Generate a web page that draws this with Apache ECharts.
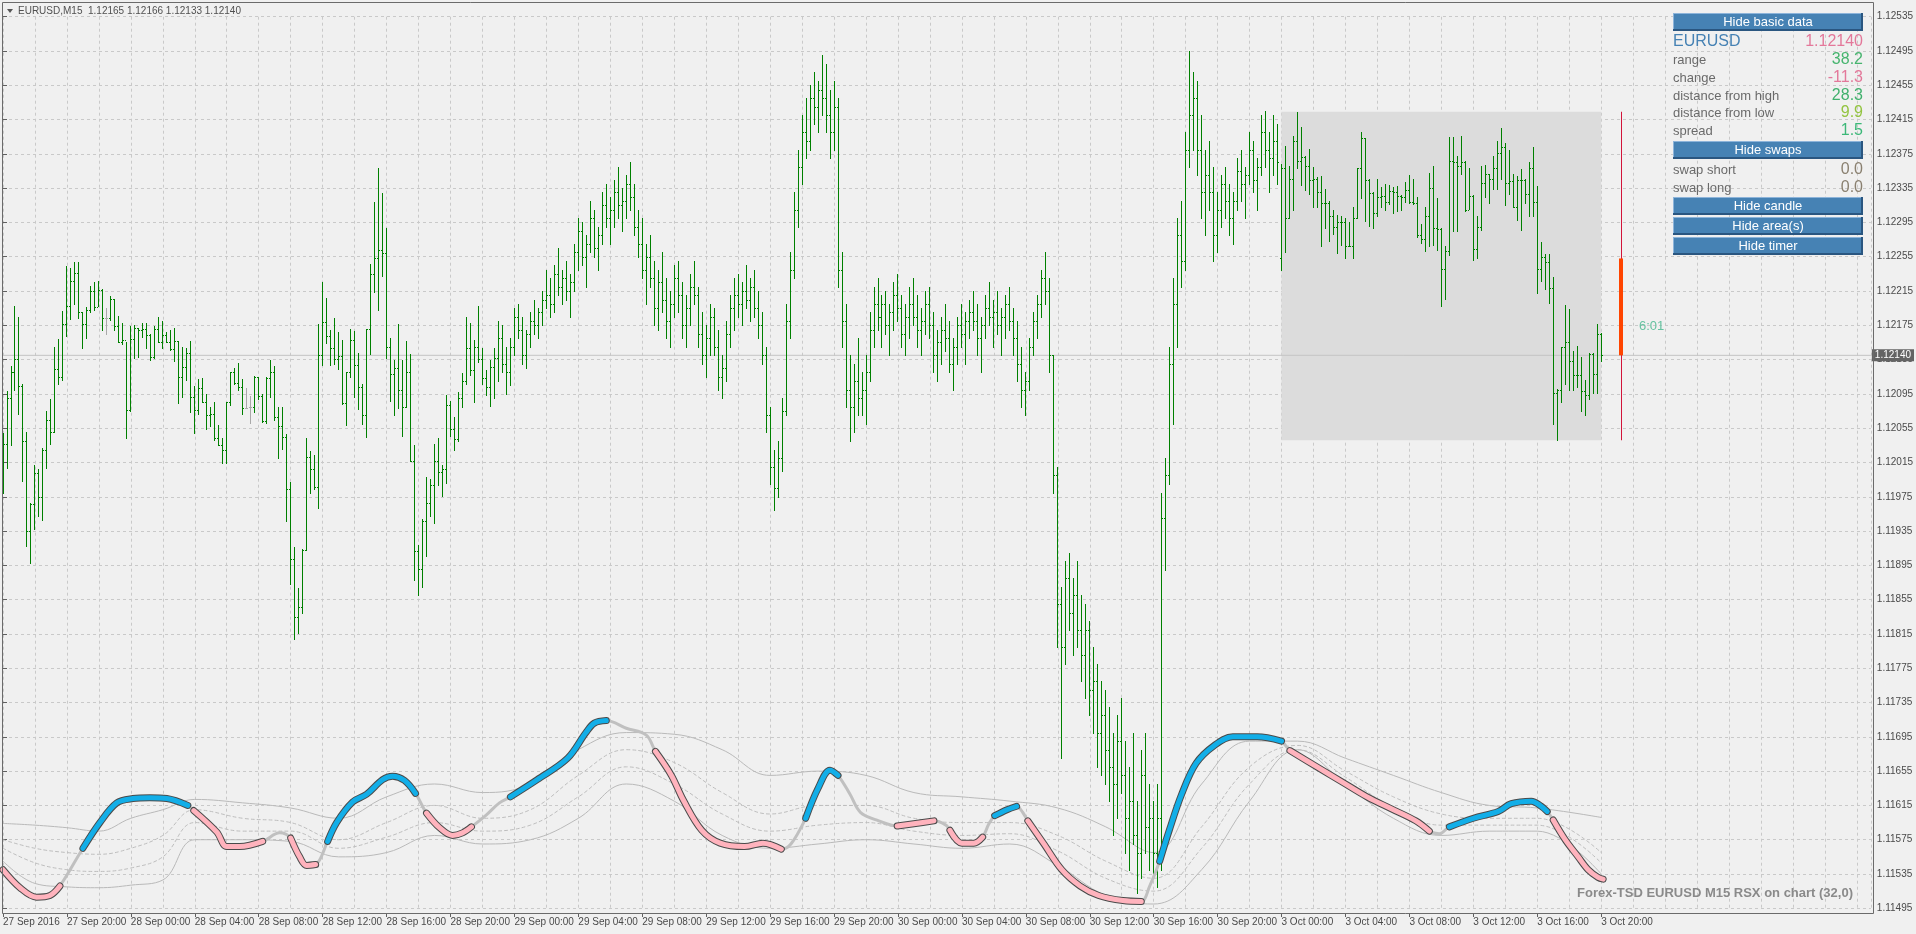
<!DOCTYPE html>
<html><head><meta charset="utf-8">
<script src="https://cdn.jsdelivr.net/npm/echarts/dist/echarts.min.js"></script>
<style>html,body{margin:0;padding:0;background:#f0f0f0;overflow:hidden}#c{width:1916px;height:934px}</style>
</head><body><div id="c"></div>
<script>
// ---- time axis labels (one every 16 bars of 15 minutes) ----
const xLabels = ['27 Sep 2016','27 Sep 20:00','28 Sep 00:00','28 Sep 04:00','28 Sep 08:00','28 Sep 12:00','28 Sep 16:00','28 Sep 20:00','29 Sep 00:00','29 Sep 04:00','29 Sep 08:00','29 Sep 12:00','29 Sep 16:00','29 Sep 20:00','30 Sep 00:00','30 Sep 04:00','30 Sep 08:00','30 Sep 12:00','30 Sep 16:00','30 Sep 20:00','3 Oct 00:00','3 Oct 04:00','3 Oct 08:00','3 Oct 12:00','3 Oct 16:00','3 Oct 20:00'];
// ---- M15 bars (401 bars, 27 Sep 16:00 .. 3 Oct 20:00) ----
const barHigh = [
1.12049,1.12098,1.12127,1.12197,1.12185,1.12107,1.12051,1.11968,1.12012,1.12007,1.12032,1.12075,1.12089,1.12150,1.12159,1.12192,1.12244,1.12242,1.12249,1.12249,
1.12190,1.12196,1.12221,1.12225,1.12227,1.12217,1.12195,1.12209,1.12206,1.12186,1.12178,1.12156,1.12174,1.12175,1.12172,1.12178,1.12178,1.12165,1.12174,1.12185,
1.12180,1.12167,1.12169,1.12172,1.12157,1.12150,1.12148,1.12157,1.12104,1.12112,1.12113,1.12095,1.12080,1.12086,1.12059,1.12043,1.12086,1.12120,1.12125,1.12131,
1.12112,1.12102,1.12092,1.12116,1.12115,1.12095,1.12115,1.12135,1.12127,1.12080,1.12080,1.12048,1.11992,1.11917,1.11869,1.11914,1.12043,1.12028,1.12024,1.12176,
1.12225,1.12207,1.12169,1.12183,1.12167,1.12158,1.12121,1.12171,1.12168,1.12143,1.12107,1.12171,1.12247,1.12319,1.12359,1.12329,1.12289,1.12160,1.12135,1.12176,
1.12134,1.12157,1.12142,1.12035,1.11919,1.11949,1.11998,1.11996,1.12036,1.12043,1.12012,1.12094,1.12087,1.12068,1.12097,1.12119,1.12185,1.12178,1.12158,1.12197,
1.12149,1.12123,1.12134,1.12149,1.12180,1.12175,1.12150,1.12160,1.12195,1.12200,1.12185,1.12170,1.12190,1.12205,1.12195,1.12215,1.12240,1.12230,1.12245,1.12265,
1.12240,1.12250,1.12235,1.12270,1.12300,1.12295,1.12280,1.12320,1.12310,1.12290,1.12330,1.12340,1.12325,1.12345,1.12360,1.12335,1.12350,1.12365,1.12340,1.12310,
1.12300,1.12270,1.12280,1.12250,1.12240,1.12260,1.12230,1.12215,1.12245,1.12250,1.12225,1.12210,1.12235,1.12250,1.12220,1.12190,1.12175,1.12200,1.12195,1.12170,
1.12140,1.12180,1.12210,1.12230,1.12235,1.12225,1.12245,1.12230,1.12240,1.12215,1.12190,1.12150,1.12080,1.12030,1.12040,1.12090,1.12200,1.12260,1.12330,1.12380,
1.12420,1.12440,1.12455,1.12470,1.12460,1.12490,1.12480,1.12450,1.12460,1.12440,1.12260,1.12200,1.12140,1.12130,1.12160,1.12120,1.12140,1.12190,1.12220,1.12230,
1.12210,1.12215,1.12200,1.12225,1.12235,1.12210,1.12200,1.12220,1.12230,1.12210,1.12195,1.12215,1.12220,1.12190,1.12170,1.12185,1.12200,1.12180,1.12160,1.12185,
1.12200,1.12190,1.12205,1.12215,1.12200,1.12185,1.12210,1.12225,1.12205,1.12215,1.12195,1.12210,1.12220,1.12195,1.12180,1.12150,1.12120,1.12160,1.12190,1.12210,
1.12240,1.12260,1.12230,1.12140,1.12010,1.11870,1.11900,1.11910,1.11880,1.11900,1.11860,1.11850,1.11830,1.11800,1.11780,1.11760,1.11750,1.11730,1.11700,1.11720,
1.11740,1.11690,1.11660,1.11700,1.11620,1.11680,1.11700,1.11640,1.11620,1.11640,1.11980,1.12020,1.12150,1.12230,1.12300,1.12320,1.12400,1.12495,1.12470,1.12460,
1.12420,1.12380,1.12390,1.12360,1.12330,1.12350,1.12360,1.12340,1.12330,1.12370,1.12380,1.12360,1.12400,1.12390,1.12370,1.12420,1.12425,1.12400,1.12420,1.12410,
1.12363,1.12384,1.12361,1.12396,1.12424,1.12406,1.12372,1.12381,1.12360,1.12348,1.12349,1.12334,1.12320,1.12310,1.12304,1.12303,1.12300,1.12296,1.12313,1.12359,
1.12400,1.12394,1.12346,1.12331,1.12346,1.12336,1.12340,1.12339,1.12336,1.12338,1.12327,1.12342,1.12350,1.12346,1.12325,1.12293,1.12313,1.12353,1.12361,1.12323,
1.12288,1.12268,1.12395,1.12395,1.12373,1.12396,1.12367,1.12359,1.12327,1.12303,1.12361,1.12362,1.12352,1.12372,1.12390,1.12405,1.12388,1.12379,1.12351,1.12349,
1.12357,1.12346,1.12365,1.12383,1.12338,1.12272,1.12258,1.12258,1.12231,1.12101,1.12150,1.12199,1.12194,1.12145,1.12151,1.12138,1.12111,1.12143,1.12143,1.12177,
1.12166];
const barLow = [
1.11979,1.12009,1.12035,1.12100,1.12072,1.11994,1.11918,1.11898,1.11937,1.11953,1.11948,1.12009,1.12037,1.12051,1.12106,1.12111,1.12162,1.12182,1.12200,1.12184,
1.12149,1.12160,1.12190,1.12193,1.12198,1.12170,1.12165,1.12181,1.12170,1.12156,1.12153,1.12044,1.12075,1.12137,1.12138,1.12161,1.12148,1.12134,1.12137,1.12155,
1.12149,1.12155,1.12146,1.12133,1.12084,1.12091,1.12111,1.12074,1.12049,1.12072,1.12085,1.12054,1.12058,1.12041,1.12035,1.12014,1.12014,1.12082,1.12107,1.12100,
1.12072,1.12078,1.12061,1.12074,1.12089,1.12062,1.12061,1.12091,1.12065,1.12020,1.12031,1.11947,1.11873,1.11809,1.11816,1.11840,1.11913,1.11979,1.11984,1.11962,
1.12129,1.12154,1.12129,1.12130,1.12124,1.12083,1.12059,1.12115,1.12091,1.12077,1.12060,1.12045,1.12141,1.12214,1.12193,1.12232,1.12137,1.12087,1.12070,1.12078,
1.12046,1.12080,1.12017,1.11878,1.11861,1.11870,1.11906,1.11953,1.11945,1.11989,1.11976,1.11991,1.12046,1.12029,1.12040,1.12080,1.12106,1.12117,1.12085,1.12132,
1.12106,1.12094,1.12081,1.12090,1.12110,1.12120,1.12095,1.12105,1.12140,1.12160,1.12130,1.12125,1.12150,1.12165,1.12160,1.12175,1.12195,1.12185,1.12190,1.12210,
1.12200,1.12205,1.12185,1.12215,1.12240,1.12245,1.12220,1.12260,1.12255,1.12240,1.12270,1.12290,1.12270,1.12290,1.12300,1.12285,1.12300,1.12310,1.12280,1.12255,
1.12230,1.12200,1.12220,1.12175,1.12170,1.12190,1.12160,1.12150,1.12185,1.12190,1.12160,1.12150,1.12175,1.12200,1.12150,1.12130,1.12115,1.12140,1.12140,1.12100,
1.12090,1.12110,1.12150,1.12170,1.12185,1.12175,1.12195,1.12180,1.12185,1.12160,1.12130,1.12050,1.11990,1.11960,1.11975,1.12005,1.12070,1.12160,1.12230,1.12290,
1.12340,1.12370,1.12380,1.12410,1.12400,1.12420,1.12400,1.12370,1.12380,1.12220,1.12150,1.12080,1.12040,1.12050,1.12070,1.12070,1.12060,1.12110,1.12150,1.12170,
1.12150,1.12165,1.12140,1.12170,1.12180,1.12150,1.12140,1.12160,1.12175,1.12150,1.12140,1.12165,1.12160,1.12120,1.12110,1.12130,1.12145,1.12120,1.12100,1.12130,
1.12150,1.12130,1.12160,1.12170,1.12140,1.12120,1.12160,1.12175,1.12150,1.12165,1.12140,1.12160,1.12170,1.12140,1.12110,1.12080,1.12070,1.12100,1.12140,1.12160,
1.12185,1.12200,1.12120,1.11980,1.11800,1.11670,1.11780,1.11820,1.11790,1.11800,1.11760,1.11740,1.11720,1.11700,1.11660,1.11650,1.11640,1.11620,1.11580,1.11600,
1.11630,1.11560,1.11540,1.11570,1.11513,1.11530,1.11560,1.11540,1.11530,1.11520,1.11540,1.11890,1.11990,1.12060,1.12150,1.12220,1.12240,1.12360,1.12380,1.12350,
1.12300,1.12280,1.12310,1.12250,1.12260,1.12290,1.12300,1.12280,1.12270,1.12310,1.12320,1.12300,1.12340,1.12330,1.12310,1.12350,1.12360,1.12330,1.12350,1.12340,
1.12239,1.12260,1.12300,1.12309,1.12359,1.12339,1.12333,1.12328,1.12313,1.12313,1.12268,1.12289,1.12273,1.12282,1.12259,1.12269,1.12254,1.12267,1.12254,1.12300,
1.12323,1.12297,1.12291,1.12288,1.12303,1.12313,1.12309,1.12317,1.12306,1.12308,1.12310,1.12319,1.12318,1.12317,1.12278,1.12271,1.12262,1.12268,1.12269,1.12263,
1.12197,1.12206,1.12257,1.12285,1.12285,1.12351,1.12308,1.12311,1.12251,1.12254,1.12286,1.12325,1.12318,1.12334,1.12334,1.12346,1.12315,1.12328,1.12313,1.12298,
1.12286,1.12318,1.12303,1.12303,1.12213,1.12227,1.12217,1.12201,1.12060,1.12041,1.12086,1.12107,1.12100,1.12100,1.12103,1.12075,1.12070,1.12089,1.12096,1.12096,
1.12133];
const barClose = [
1.12037,1.12090,1.12120,1.12136,1.12104,1.12040,1.11935,1.11967,1.12003,1.11975,1.12029,1.12064,1.12051,1.12124,1.12115,1.12177,1.12197,1.12227,1.12236,1.12190,
1.12177,1.12193,1.12215,1.12196,1.12216,1.12184,1.12184,1.12206,1.12174,1.12156,1.12158,1.12076,1.12159,1.12172,1.12170,1.12171,1.12164,1.12138,1.12171,1.12155,
1.12164,1.12155,1.12147,1.12157,1.12115,1.12126,1.12143,1.12091,1.12076,1.12102,1.12085,1.12070,1.12071,1.12044,1.12035,1.12029,1.12086,1.12120,1.12108,1.12103,
1.12078,1.12079,1.12080,1.12115,1.12093,1.12063,1.12113,1.12121,1.12068,1.12057,1.12045,1.11984,1.11902,1.11835,1.11847,1.11913,1.12021,1.12008,1.11986,1.12140,
1.12179,1.12163,1.12149,1.12136,1.12139,1.12084,1.12121,1.12158,1.12129,1.12103,1.12070,1.12171,1.12235,1.12253,1.12263,1.12259,1.12150,1.12118,1.12125,1.12099,
1.12080,1.12121,1.12017,1.11912,1.11891,1.11947,1.11968,1.11989,1.12017,1.12004,1.12007,1.12082,1.12054,1.12042,1.12090,1.12110,1.12148,1.12123,1.12150,1.12136,
1.12114,1.12103,1.12126,1.12137,1.12160,1.12130,1.12120,1.12150,1.12185,1.12170,1.12140,1.12165,1.12180,1.12175,1.12190,1.12205,1.12210,1.12200,1.12235,1.12220,
1.12230,1.12215,1.12225,1.12260,1.12285,1.12255,1.12270,1.12300,1.12265,1.12280,1.12315,1.12300,1.12310,1.12330,1.12315,1.12320,1.12340,1.12325,1.12290,1.12270,
1.12240,1.12255,1.12230,1.12195,1.12225,1.12205,1.12180,1.12200,1.12230,1.12210,1.12175,1.12195,1.12220,1.12210,1.12165,1.12140,1.12160,1.12185,1.12150,1.12115,
1.12125,1.12165,1.12195,1.12210,1.12200,1.12215,1.12205,1.12220,1.12195,1.12175,1.12140,1.12070,1.12010,1.11985,1.12020,1.12075,1.12180,1.12240,1.12310,1.12360,
1.12400,1.12390,1.12440,1.12430,1.12450,1.12440,1.12420,1.12400,1.12430,1.12240,1.12180,1.12100,1.12080,1.12110,1.12090,1.12100,1.12120,1.12170,1.12200,1.12185,
1.12200,1.12175,1.12190,1.12210,1.12195,1.12165,1.12185,1.12200,1.12185,1.12170,1.12180,1.12200,1.12175,1.12140,1.12155,1.12170,1.12160,1.12130,1.12150,1.12175,
1.12165,1.12180,1.12190,1.12180,1.12160,1.12175,1.12195,1.12185,1.12190,1.12175,1.12185,1.12200,1.12180,1.12160,1.12130,1.12100,1.12110,1.12150,1.12180,1.12200,
1.12230,1.12215,1.12140,1.12000,1.11850,1.11800,1.11880,1.11840,1.11860,1.11820,1.11790,1.11820,1.11750,1.11760,1.11700,1.11720,1.11680,1.11660,1.11640,1.11690,
1.11650,1.11600,1.11620,1.11580,1.11560,1.11650,1.11590,1.11600,1.11560,1.11600,1.11950,1.12000,1.12130,1.12200,1.12280,1.12250,1.12380,1.12420,1.12440,1.12380,
1.12330,1.12350,1.12330,1.12280,1.12310,1.12340,1.12320,1.12300,1.12320,1.12355,1.12340,1.12350,1.12380,1.12345,1.12360,1.12400,1.12380,1.12370,1.12390,1.12366,
1.12358,1.12300,1.12346,1.12390,1.12367,1.12371,1.12361,1.12345,1.12346,1.12330,1.12318,1.12318,1.12302,1.12290,1.12295,1.12295,1.12267,1.12268,1.12300,1.12358,
1.12394,1.12344,1.12329,1.12306,1.12325,1.12326,1.12319,1.12332,1.12330,1.12326,1.12325,1.12333,1.12319,1.12318,1.12280,1.12276,1.12302,1.12335,1.12289,1.12287,
1.12241,1.12262,1.12367,1.12365,1.12361,1.12366,1.12309,1.12326,1.12264,1.12290,1.12341,1.12351,1.12346,1.12359,1.12376,1.12383,1.12341,1.12343,1.12313,1.12345,
1.12344,1.12328,1.12359,1.12319,1.12241,1.12255,1.12249,1.12219,1.12096,1.12100,1.12150,1.12156,1.12133,1.12117,1.12117,1.12098,1.12094,1.12142,1.12118,1.12165,
1.12140];
const barOpen = [
1.12030,1.12037,1.12090,1.12120,1.12136,1.12104,1.12040,1.11935,1.11967,1.12003,1.11975,1.12029,1.12064,1.12051,1.12124,1.12115,1.12177,1.12197,1.12227,1.12236,
1.12190,1.12177,1.12193,1.12215,1.12196,1.12216,1.12184,1.12184,1.12206,1.12174,1.12156,1.12158,1.12076,1.12159,1.12172,1.12170,1.12171,1.12164,1.12138,1.12171,
1.12155,1.12164,1.12155,1.12147,1.12157,1.12115,1.12126,1.12143,1.12091,1.12076,1.12102,1.12085,1.12070,1.12071,1.12044,1.12035,1.12029,1.12086,1.12120,1.12108,
1.12103,1.12079,1.12080,1.12080,1.12115,1.12093,1.12063,1.12113,1.12121,1.12068,1.12057,1.12045,1.11984,1.11902,1.11835,1.11847,1.11913,1.12021,1.12008,1.11986,
1.12140,1.12179,1.12163,1.12149,1.12136,1.12139,1.12084,1.12121,1.12158,1.12129,1.12103,1.12070,1.12171,1.12235,1.12253,1.12263,1.12259,1.12150,1.12118,1.12125,
1.12099,1.12080,1.12121,1.12017,1.11912,1.11891,1.11947,1.11968,1.11989,1.12017,1.12004,1.12007,1.12082,1.12054,1.12042,1.12090,1.12110,1.12148,1.12123,1.12150,
1.12136,1.12114,1.12103,1.12126,1.12137,1.12160,1.12130,1.12120,1.12150,1.12185,1.12170,1.12140,1.12165,1.12180,1.12175,1.12190,1.12205,1.12210,1.12200,1.12235,
1.12220,1.12230,1.12215,1.12225,1.12260,1.12285,1.12255,1.12270,1.12300,1.12265,1.12280,1.12315,1.12300,1.12310,1.12330,1.12315,1.12320,1.12340,1.12325,1.12290,
1.12270,1.12240,1.12255,1.12230,1.12195,1.12225,1.12205,1.12180,1.12200,1.12230,1.12210,1.12175,1.12195,1.12220,1.12210,1.12165,1.12140,1.12160,1.12185,1.12150,
1.12115,1.12125,1.12165,1.12195,1.12210,1.12200,1.12215,1.12205,1.12220,1.12195,1.12175,1.12140,1.12070,1.12010,1.11985,1.12020,1.12075,1.12180,1.12240,1.12310,
1.12360,1.12400,1.12390,1.12440,1.12430,1.12450,1.12440,1.12420,1.12400,1.12430,1.12240,1.12180,1.12100,1.12080,1.12110,1.12090,1.12100,1.12120,1.12170,1.12200,
1.12185,1.12200,1.12175,1.12190,1.12210,1.12195,1.12165,1.12185,1.12200,1.12185,1.12170,1.12180,1.12200,1.12175,1.12140,1.12155,1.12170,1.12160,1.12130,1.12150,
1.12175,1.12165,1.12180,1.12190,1.12180,1.12160,1.12175,1.12195,1.12185,1.12190,1.12175,1.12185,1.12200,1.12180,1.12160,1.12130,1.12100,1.12110,1.12150,1.12180,
1.12200,1.12230,1.12215,1.12140,1.12000,1.11850,1.11800,1.11880,1.11840,1.11860,1.11820,1.11790,1.11820,1.11750,1.11760,1.11700,1.11720,1.11680,1.11660,1.11640,
1.11690,1.11650,1.11600,1.11620,1.11580,1.11560,1.11650,1.11590,1.11600,1.11560,1.11600,1.11950,1.12000,1.12130,1.12200,1.12280,1.12250,1.12380,1.12420,1.12440,
1.12380,1.12330,1.12350,1.12330,1.12280,1.12310,1.12340,1.12320,1.12300,1.12320,1.12355,1.12340,1.12350,1.12380,1.12345,1.12360,1.12400,1.12380,1.12370,1.12390,
1.12253,1.12358,1.12300,1.12346,1.12390,1.12367,1.12371,1.12361,1.12345,1.12346,1.12330,1.12318,1.12318,1.12302,1.12290,1.12295,1.12295,1.12267,1.12268,1.12300,
1.12358,1.12394,1.12344,1.12329,1.12306,1.12325,1.12326,1.12319,1.12332,1.12330,1.12326,1.12325,1.12333,1.12319,1.12318,1.12280,1.12276,1.12302,1.12335,1.12289,
1.12287,1.12241,1.12262,1.12367,1.12365,1.12361,1.12366,1.12309,1.12326,1.12264,1.12290,1.12341,1.12351,1.12346,1.12359,1.12376,1.12383,1.12341,1.12343,1.12313,
1.12345,1.12344,1.12328,1.12359,1.12319,1.12241,1.12255,1.12249,1.12219,1.12096,1.12100,1.12150,1.12156,1.12133,1.12117,1.12117,1.12098,1.12094,1.12142,1.12118,
1.12165];
const dojiBars = [26, 61, 62];
// ---- daily candle of 3 Oct and the day's area ----
const dayCandle = {bar: 405, open: 1.12253, high: 1.12424, low: 1.12041, close: 1.12140};
const dayArea = {from: 320, to: 400, high: 1.12424, low: 1.12041};
const lastPrice = 1.12140;
// ---- RSX on chart (sampled along the bars) ----
const rsxIdx = [0,4.25,8.4,11.75,14.25,20,24.25,28.5,32.5,36.75,41,46.25,47.75,53.5,56,59.25,65,69.25,72,74.25,76,78.25,81.25,83.5,87.5,91,95,97.5,100.5,103.25,106,109.25,112.5,115,117.25,121,124.25,
127,133.7,141.3,145.9,148,151,156,161,163.3,167.3,170.3,174.9,179.5,185.6,190.2,194.8,197.2,200.9,204,207,209,212,214.6,219.2,223.8,228.4,233,236,237,240,243,245.2,246.7,248.2,251.3,253.7,255.2,256.5,260.4,265,269.6,274.2,280.3,284.9,287,
289.5,291.9,295,298.6,303.2,307.8,313.9,320,321,322.1,329.2,335.3,341.4,347.5,353.6,357,359.5,362,368,374.25,377.5,382.5,385,386.5,388,391,394.25,396.75,399.25,400.5];
const rsxVal = [1.11540,1.11519,1.11508,1.11510,1.11521,1.11565,1.11595,1.11618,1.11623,1.11624,1.11623,1.11615,1.11609,1.11584,1.11567,1.11567,1.11573,1.11583,1.11577,1.11555,1.11545,1.11546,1.11573,1.11595,1.11619,1.11628,1.11645,1.11649,1.11644,1.11629,1.11606,1.11589,1.11580,1.11583,1.11590,1.11604,1.11618,
1.11625,1.11645,1.11670,1.11700,1.11711,1.11714,1.11705,1.11697,1.11678,1.11650,1.11621,1.11586,1.11571,1.11567,1.11571,1.11564,1.11570,1.11600,1.11635,1.11656,1.11650,1.11628,1.11607,1.11597,1.11591,1.11594,1.11597,1.11592,1.11586,1.11571,1.11571,1.11578,1.11593,1.11603,1.11610,1.11614,1.11607,1.11597,1.11571,1.11540,1.11521,1.11510,1.11504,1.11503,1.11521,
1.11550,1.11586,1.11628,1.11664,1.11685,1.11695,1.11695,1.11690,1.11685,1.11679,1.11659,1.11642,1.11625,1.11611,1.11597,1.11585,1.11582,1.11590,1.11600,1.11608,1.11617,1.11620,1.11614,1.11608,1.11598,1.11575,1.11555,1.11540,1.11531,1.11529];
const rsxState = ['d','d','d','d','d','u','u','u','u','u','u','u','d','d','d','d','d','n','d','d','d','d','u','u','u','u','u','u','u','u','d','d','d','d','d','n','n',
'u','u','u','u','u','u','n','n','d','d','d','d','d','d','d','d','n','u','u','u','u','n','n','n','d','d','d','n','d','d','d','d','n','u','u','u','n','d','d','d','d','d','d','d','n',
'u','u','u','u','u','u','u','u','n','d','d','d','d','d','d','d','n','u','u','u','u','u','u','u','d','d','d','d','d','d'];
// ---- RSX levels (thin grey lines) ----
const lvlIdx = [0,8,16,24,32,40,48,60,72,84,96,108,120,132,144,156,168,180,192,204,216,228,240,252,264,276,288,300,312,324,336,348,360,372,384,400];
const lvlUpper = [1.11594,1.11592,1.11589,1.11585,1.11600,1.11610,1.11622,1.11618,1.11612,1.11600,1.11625,1.11640,1.11630,1.11640,1.11680,1.11700,1.11698,1.11680,1.11650,1.11655,1.11650,1.11630,1.11625,1.11620,1.11612,1.11590,1.11560,1.11640,1.11690,1.11690,1.11670,1.11650,1.11630,1.11615,1.11612,1.11601];
const lvlLower = [1.11550,1.11524,1.11520,1.11519,1.11522,1.11528,1.11575,1.11575,1.11573,1.11555,1.11560,1.11580,1.11570,1.11575,1.11600,1.11640,1.11620,1.11580,1.11565,1.11570,1.11575,1.11570,1.11565,1.11570,1.11545,1.11510,1.11500,1.11540,1.11620,1.11680,1.11640,1.11600,1.11580,1.11585,1.11585,1.11535];
const lvlMid1 = [1.11575,1.11565,1.11560,1.11558,1.11565,1.11580,1.11610,1.11600,1.11595,1.11575,1.11595,1.11615,1.11600,1.11610,1.11650,1.11680,1.11665,1.11630,1.11605,1.11615,1.11615,1.11600,1.11595,1.11595,1.11580,1.11550,1.11530,1.11590,1.11660,1.11685,1.11655,1.11625,1.11605,1.11600,1.11600,1.11560];
const lvlMid2 = [1.11565,1.11548,1.11540,1.11538,1.11542,1.11555,1.11595,1.11585,1.11585,1.11565,1.11578,1.11595,1.11585,1.11592,1.11625,1.11660,1.11640,1.11605,1.11585,1.11592,1.11595,1.11585,1.11580,1.11582,1.11562,1.11530,1.11515,1.11565,1.11640,1.11680,1.11648,1.11612,1.11592,1.11592,1.11592,1.11548];
// ---- info panel ----
const panelRows = ['range','change','distance from high','distance from low','spread'];
const panelVals = ['38.2','-11.3','28.3','9.9','1.5'];
const swapRows = ['swap short','swap long'];
const swapVals = ['0.0','0.0'];
const header = 'EURUSD,M15  1.12165 1.12166 1.12133 1.12140';
const footer = 'Forex-TSD EURUSD M15 RSX on chart (32,0)';
const timerText = '6:01';

// ================= build =================
const FONT = '"Liberation Sans", Arial, sans-serif';
const chart = echarts.init(document.getElementById('c'), null, {renderer: 'canvas'});
const barData = barHigh.map((h, i) => [i, barOpen[i], h, barLow[i], barClose[i], dojiBars.includes(i) ? 1 : 0]);

function renderBar(params, api) {
  const i = api.value(0);
  const pO = api.coord([i, api.value(1)]), pH = api.coord([i, api.value(2)]);
  const pL = api.coord([i, api.value(3)]), pC = api.coord([i, api.value(4)]);
  const x = Math.floor(pO[0] + 0.01);
  const col = api.value(5) ? '#a9a9a9' : '#008000';
  const yh = Math.round(pH[1]), yl = Math.round(pL[1]);
  return {type: 'group', children: [
    {type: 'rect', shape: {x: x, y: yh, width: 1, height: Math.max(1, yl - yh + 1)}, style: {fill: col}},
    {type: 'rect', shape: {x: x - 1, y: Math.round(pO[1]), width: 1, height: 1}, style: {fill: col}},
    {type: 'rect', shape: {x: x + 1, y: Math.round(pC[1]), width: 1, height: 1}, style: {fill: col}}
  ]};
}
function renderDay(params, api) {
  const i = api.value(0);
  const pO = api.coord([i, api.value(1)]), pH = api.coord([i, api.value(2)]);
  const pL = api.coord([i, api.value(3)]), pC = api.coord([i, api.value(4)]);
  const x = Math.floor(pO[0] + 0.01);
  const top = Math.min(pO[1], pC[1]), bot = Math.max(pO[1], pC[1]);
  return {type: 'group', children: [
    {type: 'rect', shape: {x: x, y: pH[1], width: 1, height: pL[1] - pH[1]}, style: {fill: '#d2143a'}},
    {type: 'rect', shape: {x: x - 2, y: top, width: 4, height: bot - top}, style: {fill: '#ff4500'}}
  ]};
}
function seg(state) {
  return rsxIdx.map((x, k) => rsxState[k] === state ? [x, rsxVal[k]] : [x, null]);
}
const rsxAll = rsxIdx.map((x, k) => [x, rsxVal[k]]);
function lineSeries(data, color, width, z, type, smooth) {
  return {type: 'line', data: data, smooth: smooth, showSymbol: false, connectNulls: false, animation: false,
    lineStyle: {color: color, width: width, cap: 'round', join: 'round', type: type || 'solid'}, z: z, silent: true};
}
const lvl = arr => lvlIdx.map((x, k) => [x, arr[k]]);

// graphic: frame, header, panel, texts
const g = [];
g.push({type: 'rect', shape: {x: 2.5, y: 2.5, width: 1871, height: 911}, style: {fill: 'none', stroke: '#6b6b6b', lineWidth: 1}, z: 50, silent: true});
g.push({type: 'polygon', shape: {points: [[7, 9], [13, 9], [10, 13]]}, style: {fill: '#555'}, z: 60});
g.push({type: 'text', x: 18, y: 11, style: {text: header, fill: '#505050', font: '10px ' + FONT, textVerticalAlign: 'middle', verticalAlign: 'middle'}, z: 60});
function button(y, label) {
  g.push({type: 'rect', shape: {x: 1673, y: y, width: 190, height: 18}, style: {fill: '#4682b4'}, z: 100});
  g.push({type: 'rect', shape: {x: 1673, y: y, width: 190, height: 1}, style: {fill: '#8db4da'}, z: 101});
  g.push({type: 'rect', shape: {x: 1673, y: y, width: 1, height: 18}, style: {fill: '#8db4da'}, z: 101});
  g.push({type: 'rect', shape: {x: 1673, y: y + 16, width: 190, height: 2}, style: {fill: '#2a5680'}, z: 101});
  g.push({type: 'rect', shape: {x: 1861, y: y, width: 2, height: 18}, style: {fill: '#2a5680'}, z: 101});
  g.push({type: 'text', x: 1768, y: y + 9, style: {text: label, fill: '#ffffff', font: '13px ' + FONT, textAlign: 'center', align: 'center', textVerticalAlign: 'middle', verticalAlign: 'middle'}, z: 102});
}
function row(y, label, val, col, big) {
  g.push({type: 'text', x: 1673, y: y, style: {text: label, fill: big ? '#4682b4' : '#6a6a6a', font: (big ? '16px ' : '13px ') + FONT, textVerticalAlign: 'middle', verticalAlign: 'middle'}, z: 102});
  g.push({type: 'text', x: 1863, y: y, style: {text: val, fill: col, font: '16px ' + FONT, textAlign: 'right', align: 'right', textVerticalAlign: 'middle', verticalAlign: 'middle'}, z: 102});
}
button(13, 'Hide basic data');
row(42, 'EURUSD', '1.12140', '#e3789a', true);
const rowCols = ['#46b46e', '#e3789a', '#3fb06c', '#93c440', '#3cb878'];
const rowY = [60, 78, 96, 113, 131];
panelRows.forEach((r, k) => row(rowY[k], r, panelVals[k], rowCols[k], false));
button(141, 'Hide swaps');
swapRows.forEach((r, k) => row([170, 188][k], r, swapVals[k], '#8a8070', false));
button(197, 'Hide candle');
button(217, 'Hide area(s)');
button(237, 'Hide timer');
g.push({type: 'text', x: 1639, y: 326, style: {text: timerText, fill: '#66c2a0', font: '13px ' + FONT, textVerticalAlign: 'middle', verticalAlign: 'middle'}, z: 60});
g.push({type: 'text', x: 1853, y: 893, style: {text: footer, fill: '#8a8a8a', font: 'bold 13px ' + FONT, textAlign: 'right', align: 'right', textVerticalAlign: 'middle', verticalAlign: 'middle'}, z: 60});

const tickIdx = xLabels.map((_, k) => k * 16);
const option = {
  animation: false,
  backgroundColor: '#f0f0f0',
  grid: {left: 3, right: 43, top: 16.7, bottom: 25.7},
  xAxis: [
    {type: 'value', min: 0, max: 467.5, interval: 16, position: 'bottom', offset: 4.7,
      axisLine: {show: false},
      axisTick: {show: true, length: 4, lineStyle: {color: '#606060'}, customValues: tickIdx},
      axisLabel: {show: true, customValues: tickIdx, formatter: v => xLabels[Math.round(v / 16)] || '', align: 'left', margin: 4,
        color: '#4a4a4a', fontSize: 10, fontFamily: 'Liberation Sans', showMinLabel: true, showMaxLabel: true},
      splitLine: {show: false}},
    {type: 'value', min: 0, max: 467.5, interval: 8, position: 'bottom',
      axisLine: {show: false}, axisTick: {show: false}, axisLabel: {show: false},
      splitLine: {show: true, lineStyle: {color: '#c9c9c9', type: [3, 3], width: 1}}}
  ],
  yAxis: [
    {type: 'value', position: 'right', min: 1.11495, max: 1.12535, interval: 0.0004, scale: true,
      axisLine: {show: false},
      axisTick: {show: true, length: 4, lineStyle: {color: '#606060'}},
      axisLabel: {show: true, margin: 6, formatter: v => v.toFixed(5), color: '#4a4a4a', fontSize: 10, fontFamily: 'Liberation Sans', showMinLabel: true, showMaxLabel: true},
      splitLine: {show: true, lineStyle: {color: '#c9c9c9', type: [3, 3], width: 1}}}
  ],
  graphic: {elements: g},
  series: [
    {type: 'line', data: [], z: -1, silent: true,
      markArea: {silent: true, itemStyle: {color: '#dcdcdc'},
        data: [[{xAxis: dayArea.from, yAxis: dayArea.high}, {xAxis: dayArea.to, yAxis: dayArea.low}]]}},
    {type: 'line', data: [[0, lastPrice], [467.5, lastPrice]], z: 3, silent: true, showSymbol: false, clip: false,
      lineStyle: {color: '#c4c4c4', width: 1},
      endLabel: {show: true, formatter: () => lastPrice.toFixed(5), distance: 1, backgroundColor: '#646464', color: '#ffffff',
        padding: [1, 3, 1, 3], fontSize: 10, fontFamily: 'Liberation Sans'}},
    lineSeries(lvl(lvlUpper), '#b9b9b9', 1, 4, 'solid', 0.4),
    lineSeries(lvl(lvlLower), '#b9b9b9', 1, 4, 'solid', 0.4),
    lineSeries(lvl(lvlMid1), '#bdbdbd', 1, 4, [3, 3], 0.4),
    lineSeries(lvl(lvlMid2), '#bdbdbd', 1, 4, [3, 3], 0.4),
    {type: 'custom', name: 'bars', data: barData, renderItem: renderBar, encode: {x: 0, y: [1, 2, 3, 4]}, z: 5, silent: true},
    {type: 'custom', name: 'day', data: [[dayCandle.bar, dayCandle.open, dayCandle.high, dayCandle.low, dayCandle.close]], renderItem: renderDay, encode: {x: 0, y: [1, 2, 3, 4]}, z: 5, silent: true},
    lineSeries(rsxAll, '#c0c0c0', 3, 6, 'solid', 0.35),
    lineSeries(seg('u'), '#4a4a4a', 7, 7, 'solid', 0.35),
    lineSeries(seg('d'), '#4a4a4a', 7, 7, 'solid', 0.35),
    lineSeries(seg('u'), '#12aee8', 5, 8, 'solid', 0.35),
    lineSeries(seg('d'), '#ffb3bd', 5, 8, 'solid', 0.35)
  ]
};
chart.setOption(option);
</script></body></html>
